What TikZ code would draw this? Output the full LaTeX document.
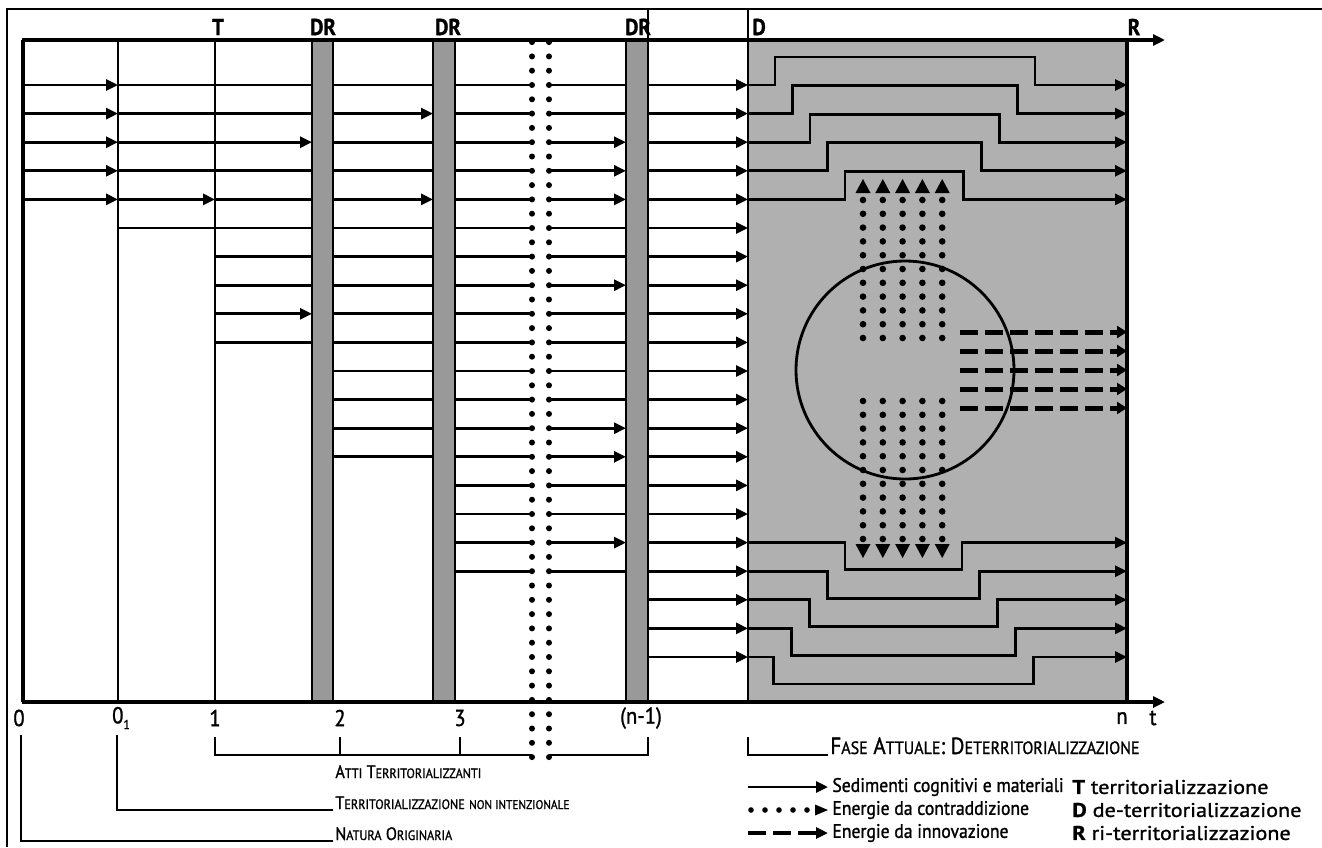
\documentclass[tikz,border=0pt]{standalone}
\usepackage{fontspec}
\setmainfont{PT Sans}[FakeStretch=0.9,FakeBold=1.2]
\newfontfamily\legfont{PT Sans}[FakeStretch=0.9,FakeBold=1.2]
\newfontfamily\keyfont{PT Sans}[FakeStretch=1.12,FakeBold=1.2]
\usetikzlibrary{arrows.meta}
\newcommand\smc[1]{{\fontsize{6.8pt}{7pt}\selectfont\MakeUppercase{#1}}}
\newcommand\smcs[1]{{\fontsize{6.3pt}{7pt}\selectfont\MakeUppercase{#1}}}
\newcommand\smcf[1]{{\fontsize{8.9pt}{9pt}\selectfont\MakeUppercase{#1}}}
\begin{document}
\begin{tikzpicture}[x=0.5pt,y=-0.5pt,
  ln/.style={line width=1.4pt},
  arr/.style={ln,-{Triangle[length=6pt,width=5.5pt]}},
  vl/.style={line width=1.35pt},
  thinl/.style={line width=1pt},
  band/.style={fill=black!40,draw=black,line width=1pt},
  dotcol/.style={line width=3pt,line cap=round,dash pattern=on 0pt off 7.15pt},
  toplab/.style={font=\fontsize{11.5pt}{12pt}\selectfont\bfseries,inner sep=0pt},
  botlab/.style={font=\fontsize{11.5pt}{12pt}\selectfont,inner sep=0pt},
  leg/.style={font=\legfont\fontsize{9.8pt}{12pt}\selectfont,inner sep=0pt,anchor=west},
  key/.style={font=\keyfont\fontsize{9.9pt}{12pt}\selectfont,inner sep=0pt,anchor=west},
  brk/.style={font=\fontsize{9pt}{10pt}\selectfont,inner sep=0pt,anchor=base west},
  brkf/.style={font=\fontsize{11.7pt}{12pt}\selectfont,inner sep=0pt,anchor=base west},
]
\useasboundingbox (0,0) rectangle (1322,847);
% frame
\draw[line width=0.8pt] (7,847) -- (7,9) -- (1322,9);
% D region
\fill[black!31] (748,40) rectangle (1127,702);
% DR bands
\draw[band] (312,40) rectangle (333,702);
\draw[band] (433,40) rectangle (455,702);
\draw[band] (626,40) rectangle (648,702);
% column A
\foreach \k in {0,...,4} \draw[arr] (23,{85+28.6*\k}) -- (118,{85+28.6*\k});
% column B
\foreach \k in {0,1,2,3,5} \draw[ln] (118,{85+28.6*\k}) -- (215,{85+28.6*\k});
\foreach \k in {4} \draw[arr] (118,{85+28.6*\k}) -- (215,{85+28.6*\k});
% column C
\foreach \k in {0,1,3,4,5,6,7,9} \draw[ln] (215,{85+28.6*\k}) -- (312,{85+28.6*\k});
\foreach \k in {2,8} \draw[arr] (215,{85+28.6*\k}) -- (312,{85+28.6*\k});
% column D
\foreach \k in {0,2,3,5,6,...,13} \draw[ln] (333,{85+28.6*\k}) -- (433,{85+28.6*\k});
\foreach \k in {1,4} \draw[arr] (333,{85+28.6*\k}) -- (433,{85+28.6*\k});
% column E
\foreach \k in {0,...,17} \draw[ln] (455,{85+28.6*\k}) -- (532,{85+28.6*\k});
% column F
\foreach \k in {0,1,5,6,8,9,10,11,14,15,17} \draw[ln] (549,{85+28.6*\k}) -- (626,{85+28.6*\k});
\foreach \k in {2,3,4,7,12,13,16} \draw[arr] (549,{85+28.6*\k}) -- (626,{85+28.6*\k});
% column G
\foreach \k in {0,...,20} \draw[arr] (648,{85+28.6*\k}) -- (748,{85+28.6*\k});
% stepped lines, top
\foreach \k in {0,...,4} {
  \pgfmathsetmacro\yy{85+28.6*\k}
  \pgfmathsetmacro\yt{\yy-28}
  \pgfmathsetmacro\xl{775+17.5*\k}
  \pgfmathsetmacro\xr{1035-17.8*\k}
  \draw[arr] (748,\yy) -- (\xl,\yy) -- (\xl,\yt) -- (\xr,\yt) -- (\xr,\yy) -- (1127,\yy);
}
% stepped lines, bottom
\foreach \j in {0,...,4} {
  \pgfmathsetmacro\yy{542.6+28.6*\j}
  \pgfmathsetmacro\yb{\yy+27}
  \pgfmathsetmacro\xl{845-17.8*\j}
  \pgfmathsetmacro\xr{962+17.8*\j}
  \draw[arr] (748,\yy) -- (\xl,\yy) -- (\xl,\yb) -- (\xr,\yb) -- (\xr,\yy) -- (1127,\yy);
}
% circle
\draw[ln] (905,370) circle[radius=109];
% dotted arrows up and down
\foreach \i in {0,...,4} {
  \pgfmathsetmacro\xx{863+19.8*\i}
  \foreach \m in {0,...,10} {
    \fill (\xx,{200+13.8*\m}) circle[radius=3.3];
    \fill (\xx,{401+13.8*\m}) circle[radius=3.3];
  }
  \fill (\xx,179) -- ({\xx-7.5},193) -- ({\xx+7.5},193) -- cycle;
  \fill (\xx,558) -- ({\xx-7.5},544) -- ({\xx+7.5},544) -- cycle;
}
% dashed arrows
\foreach \yy in {332,351,370,389,408}
  \draw[line width=2.5pt,dash pattern=on 9pt off 3.5pt,-{Triangle[length=5pt,width=6pt]}] (960,\yy) -- (1127,\yy);
% vertical lines
\draw[line width=1.6pt] (23,40) -- (23,702);
\draw[vl] (118,40) -- (118,702);
\draw[vl] (215,40) -- (215,702);
\draw[vl] (648,9) -- (648,702);
\draw[vl] (748,9) -- (748,702);
\draw[line width=1.6pt] (1127,40) -- (1127,702);
% axes
\draw[line width=1.6pt,-{Triangle[length=6pt,width=5.5pt]}] (22.2,40) -- (1165,40);
\draw[line width=1.6pt,-{Triangle[length=6pt,width=5.5pt]}] (22.2,702) -- (1165,702);
% middle dotted columns
\draw[dotcol] (532,42.1) -- (532,757.5);
\draw[dotcol] (549,42.1) -- (549,757.5);
% top labels
\node[toplab] (lT) at (218,27) {T};
\node[toplab] (lDR1) at (323,27) {DR};
\node[toplab] (lDR2) at (448,27) {DR};
\node[toplab] (lDR3) at (638,27) {DR};
\node[toplab,anchor=west] (lD) at (752,27) {D};
\node[toplab] (lR) at (1134,27) {R};
% bottom labels
\node[botlab] (b0) at (19,718) {0};
\node[botlab] (b01) at (121,718) {0\raisebox{-0.5ex}{\fontsize{6.5pt}{6pt}\selectfont 1}};
\node[botlab] (b1) at (215,718) {1};
\node[botlab] (b2) at (340,718) {2};
\node[botlab] (b3) at (460,718) {3};
\node[botlab] (bn1) at (641,718) {(n-1)};
\node[botlab] (bn) at (1122,718) {n};
\node[botlab] (bt) at (1153,718) {t};
% brackets
\draw[thinl] (215,737) -- (215,755) -- (532,755);
\draw[thinl] (549,755) -- (648,755) -- (648,737);
\draw[thinl] (340,737) -- (340,755);
\draw[thinl] (460,737) -- (460,755);
\draw[thinl] (117,735) -- (117,810) -- (333,810);
\draw[thinl] (21,735) -- (21,841) -- (333,841);
\draw[thinl] (748,737) -- (748,755) -- (828,755);
\node[brk] (tAtti) at (335,778) {A\smc{tti} T\smc{erritorializzanti}};
\node[brk] (tTerr) at (335,809) {T\smc{erritorializzazione} \smcs{non intenzionale}};
\node[brk] (tNat) at (335,840) {N\smc{atura} O\smc{riginaria}};
\node[brkf] (tFase) at (830,754) {F\smcf{ase} A\smcf{ttuale}: D\smcf{eterritorializzazione}};
% legend
\coordinate (l1a) at (748,787); \coordinate (l1b) at (828,787);
\coordinate (l2a) at (748,810); \coordinate (l2b) at (828,810);
\coordinate (l3a) at (748,833); \coordinate (l3b) at (828,833);
\draw[arr] (l1a) -- (l1b);
\foreach \xx in {751,765,779,793,807} \fill (\xx,810) circle[radius=2.8];
\fill (l2b) -- ++(-13,-5.5) -- ++(0,11) -- cycle;
\draw[line width=1.8pt,dash pattern=on 9pt off 3.5pt,-{Triangle[length=6pt,width=5.5pt]}] (l3a) -- (l3b);
\node[leg] (s1) at (832,787) {Sedimenti cognitivi e materiali};
\node[leg] (s2) at (832,810) {Energie da contraddizione};
\node[leg] (s3) at (832,833) {Energie da innovazione};
\node[key] (k1) at (1072,787) {\textbf{T} territorializzazione};
\node[key] (k2) at (1072,810) {\textbf{D} de-territorializzazione};
\node[key] (k3) at (1072,833) {\textbf{R} ri-territorializzazione};
\end{tikzpicture}
\end{document}
